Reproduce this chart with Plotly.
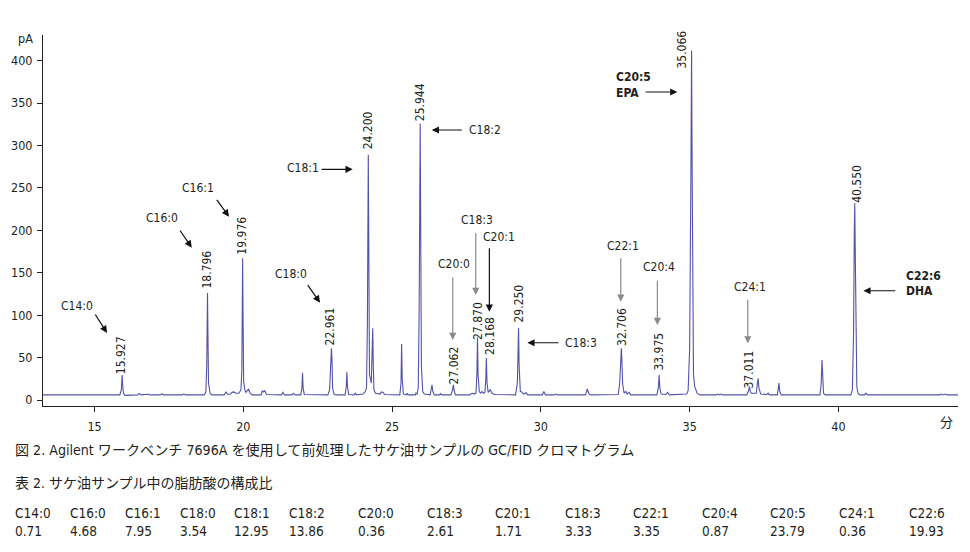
import plotly.graph_objects as go

# ---------------- data ----------------
# chromatogram trace: retention time (min) / signal (pA)
time_min = [
    13.27, 14.5, 15.6,
    15.85, 15.90, 15.915, 15.927, 15.94, 15.97, 16.02,
    16.45, 16.5, 16.56, 16.8, 16.86, 17.2, 17.26, 17.32, 17.95, 18.0, 18.05,
    18.68, 18.74, 18.77, 18.796, 18.81, 18.83, 18.88, 18.95,
    19.36, 19.42, 19.48, 19.56, 19.62, 19.68, 19.75,
    19.85, 19.92, 19.95, 19.965, 19.976, 19.99, 20.01, 20.05, 20.09, 20.17, 20.23, 20.3,
    20.6, 20.64, 20.68, 20.72, 20.78, 21.28, 21.33, 21.38, 21.64, 21.69, 21.74,
    21.93, 21.97, 21.99, 22.01, 22.05,
    22.84, 22.9, 22.94, 22.961, 22.98, 23.0, 23.05, 23.12,
    23.42, 23.46, 23.48, 23.50, 23.54, 23.72, 23.76, 23.8,
    24.02, 24.08, 24.14, 24.17, 24.2, 24.215, 24.24, 24.3, 24.33, 24.35, 24.365, 24.39, 24.44,
    24.6, 24.64, 24.7, 24.75,
    25.26, 25.3, 25.32, 25.34, 25.38, 25.48, 25.5, 25.54,
    25.78, 25.8, 25.84, 25.88, 25.91, 25.944, 25.96, 25.985, 26.03, 26.08,
    26.28, 26.32, 26.34, 26.37, 26.42, 26.6, 26.63, 26.67,
    26.98, 27.03, 27.062, 27.09, 27.13,
    27.62, 27.66, 27.72, 27.76, 27.82, 27.85, 27.870, 27.89, 27.93, 27.97, 28.02, 28.07,
    28.12, 28.15, 28.168, 28.19, 28.23, 28.3, 28.36, 28.45,
    29.15, 29.21, 29.25, 29.27, 29.31, 29.36, 29.42, 29.5, 29.56,
    30.05, 30.1, 30.15, 30.45, 30.5, 30.55, 31.5, 31.56, 31.62, 31.68,
    32.6, 32.65, 32.69, 32.706, 32.72, 32.75, 32.8, 32.86, 32.9, 32.96, 33.02,
    33.9, 33.95, 33.975, 34.0, 34.04, 34.2, 34.26, 34.32,
    34.9, 34.95, 35.0, 35.04, 35.066, 35.08, 35.1, 35.13, 35.17, 35.25, 35.35,
    35.9, 35.95, 36.0, 36.05, 36.1,
    36.92, 36.97, 37.011, 37.04, 37.08, 37.24, 37.28, 37.30, 37.33, 37.39,
    37.6, 37.64, 37.68, 37.95, 37.98, 38.0, 38.03, 38.08,
    39.38, 39.42, 39.45, 39.47, 39.5, 39.56,
    40.42, 40.47, 40.51, 40.535, 40.55, 40.565, 40.59, 40.62, 40.66, 40.72,
    40.88, 40.92, 40.97, 43.4, 43.45, 43.5, 43.6, 43.65, 44.02,
]
signal_pA = [
    6.0, 6.0, 6.0,
    6.0, 12, 22, 29.5, 20, 8, 5.5,
    6, 7.8, 6, 6.8, 6, 6, 7.2, 6, 6, 7.3, 6,
    6, 9, 40, 126, 80, 20, 8, 6,
    6, 9.5, 6.5, 7, 9, 9.5, 8,
    8, 12, 35, 110, 167, 100, 22, 12, 9, 13, 8, 6,
    6, 11, 9.5, 11, 6.5, 6, 9, 6, 6, 8, 6,
    6, 14, 32, 14, 6.5,
    6, 12, 45, 61, 48, 14, 7, 6,
    6, 16, 33, 16, 6.5, 6, 8, 6,
    7, 9, 14, 90, 289, 150, 30, 20, 50, 84.5, 45, 12, 8,
    7, 9.5, 9, 6.5,
    6, 20, 66, 25, 7, 6, 8, 6,
    6, 8, 7, 15, 110, 326, 200, 40, 10, 7,
    6, 12, 18, 10, 6, 6, 7.5, 6,
    6, 12, 18, 10, 6,
    6, 7.5, 8, 7, 8, 30, 74, 30, 10, 8, 10, 8,
    9, 25, 49.5, 20, 9, 12, 8, 6.5,
    6, 20, 85, 40, 10, 9.5, 7, 8.5, 6,
    6, 10, 6, 6, 7, 6, 6, 13, 7, 6,
    6.5, 20, 50, 61, 50, 18, 8, 10, 7, 9, 6,
    6, 15, 29.5, 14, 7, 6.5, 9, 6,
    7, 11, 60, 250, 412, 300, 100, 30, 16, 8, 6,
    6, 7, 6, 7, 6,
    6, 10, 15.7, 10, 8, 8, 20, 25.5, 14, 7,
    6.5, 8, 6, 6, 14, 20, 10, 6,
    6, 18, 47, 25, 8, 6,
    6, 12, 80, 200, 232, 180, 50, 15, 8, 6,
    6, 8, 6, 6, 7, 6, 7, 6, 6,
]
assert len(time_min) == len(signal_pA)

# labelled peaks (retention time) and label centre heights
peak_rt = [15.927, 18.796, 19.976, 22.961, 24.200, 25.944, 27.062, 27.870,
           28.168, 29.250, 32.706, 33.975, 35.066, 37.011, 40.550]
peak_label_y = [53.0, 153.2, 193.3, 87.2, 318.3, 351.3, 41.3, 93.7,
                75.4, 113.2, 86.6, 57.2, 412.6, 36.5, 255.2]
peak_label_xshift = [-1, 0, -1, -1, 0, 0, 1, 0, 3.5, 0, 0, 0, -10, 0, 1.5]

# compound labels: text, label position (x, y), arrow tail, arrow head, colour
compound_text = ["C14:0", "C16:0", "C16:1", "C18:0", "C18:1", "C18:2", "C20:0",
                 "C18:3", "C20:1", "C18:3", "C22:1", "C20:4", "C24:1"]
compound_x = [14.426, 17.267, 18.461, 21.603, 21.990, 28.124, 27.066,
              27.855, 28.595, 31.351, 32.763, 33.973, 37.015]
compound_y = [110.8, 214.5, 249.9, 148.5, 273.5, 318.3, 160.3,
              212.2, 192.5, 67.5, 181.9, 157.1, 133.6]
arrow_tail_x = [14.992, 17.839, 19.072, 22.131, 22.578, 27.395, 27.039,
                27.812, 28.269, 30.645, 32.686, 33.916, 36.955]
arrow_tail_y = [102.6, 201.6, 237.8, 137.3, 272.0, 318.3, 146.2,
                198.4, 180.7, 67.5, 168.9, 142.3, 119.9]
arrow_head_x = [15.418, 18.266, 19.519, 22.578, 23.677, 26.333, 27.039,
                27.812, 28.269, 29.546, 32.686, 33.916, 36.955]
arrow_head_y = [79.0, 179.5, 216.1, 114.7, 272.0, 318.3, 70.7,
                123.8, 104.1, 67.5, 115.9, 88.4, 66.8]
arrow_gray = [False, False, False, False, False, False, True,
              True, False, False, True, True, True]

# bold highlighted compounds (two-line labels)
bold_line1 = ["C20:5", "C22:6"]
bold_line2 = ["EPA", "DHA"]
bold_x = [32.461, 42.209]
bold_y1 = [380.8, 146.5]
bold_y2 = [362.3, 128.5]
bold_tail_x = [33.469, 41.963]
bold_head_x = [34.588, 40.840]
bold_arrow_y = [363.1, 128.8]

x_ticks = [15, 20, 25, 30, 35, 40]
y_ticks = [0, 50, 100, 150, 200, 250, 300, 350, 400]

# table
table_names = ["C14:0", "C16:0", "C16:1", "C18:0", "C18:1", "C18:2", "C20:0", "C18:3",
               "C20:1", "C18:3", "C22:1", "C20:4", "C20:5", "C24:1", "C22:6"]
table_values = [0.71, 4.68, 7.95, 3.54, 12.95, 13.86, 0.36, 2.61,
                1.71, 3.33, 3.35, 0.87, 23.79, 0.36, 19.93]

caption_fig = "図 2. Agilent ワークベンチ 7696A を使用して前処理したサケ油サンプルの GC/FID クロマトグラム"
caption_tab = "表 2. サケ油サンプル中の脂肪酸の構成比"

# ---------------- layout constants ----------------
W, H = 970, 552
ML, MR, MT, MB = 43, 12, 35, 146
PW, PH = W - ML - MR, H - MT - MB
FONT = "Liberation Sans Narrow, DejaVu Sans Condensed, Noto Sans CJK JP, sans-serif"
TXT = "#231f20"
LINE = "#5252aa"
LBL = 12      # label font size
TICK = 12.5

def px(xp):
    return (xp - ML) / PW

def py(yp):
    return (H - MB - yp) / PH

table_col_px = [12.7, 67.7, 122.7, 177.7, 232.3, 287.3, 356, 425,
                493.3, 562.7, 631, 700, 768.3, 837.3, 906.7]

fig = go.Figure()
fig.add_trace(go.Scatter(x=time_min, y=signal_pA, mode="lines",
                         line=dict(color=LINE, width=1.1), hoverinfo="skip"))

ann = []
# retention-time labels
for rt, yl, xs in zip(peak_rt, peak_label_y, peak_label_xshift):
    ann.append(dict(x=rt, y=yl, xref="x", yref="y", text=f"{rt:.3f}", showarrow=False,
                    textangle=-90, xanchor="center", yanchor="middle", xshift=xs,
                    font=dict(size=LBL, color=TXT)))
# compound labels and arrows
for t, xl, yl, tx, ty, hx, hy, g in zip(compound_text, compound_x, compound_y,
                                         arrow_tail_x, arrow_tail_y, arrow_head_x,
                                         arrow_head_y, arrow_gray):
    ann.append(dict(x=xl, y=yl, xref="x", yref="y", text=t, showarrow=False,
                    xanchor="center", yanchor="middle", font=dict(size=LBL, color=TXT)))
    col = "#8a8a8a" if g else "#111111"
    ann.append(dict(x=hx, y=hy, ax=tx, ay=ty, xref="x", yref="y", axref="x", ayref="y",
                    text="", showarrow=True, arrowhead=2, arrowsize=1.2, arrowwidth=1.2,
                    arrowcolor=col))
for l1, l2, xl, y1, y2, tx, hx, ay in zip(bold_line1, bold_line2, bold_x, bold_y1, bold_y2,
                                          bold_tail_x, bold_head_x, bold_arrow_y):
    for txt, yy in ((l1, y1), (l2, y2)):
        ann.append(dict(x=xl, y=yy, xref="x", yref="y", text=f"<b>{txt}</b>", showarrow=False,
                        xanchor="left", yanchor="middle", font=dict(size=LBL, color=TXT)))
    ann.append(dict(x=hx, y=ay, ax=tx, ay=ay, xref="x", yref="y", axref="x", ayref="y",
                    text="", showarrow=True, arrowhead=2, arrowsize=1.2, arrowwidth=1.2,
                    arrowcolor="#111111"))
# axis unit labels
ann.append(dict(x=px(25.8), y=py(38.3), xref="paper", yref="paper", text="pA", showarrow=False,
                xanchor="center", yanchor="middle", font=dict(size=TICK, color=TXT)))
ann.append(dict(x=px(946), y=py(422), xref="paper", yref="paper", text="分", showarrow=False,
                xanchor="center", yanchor="middle", font=dict(size=13, color=TXT)))
# captions
ann.append(dict(x=px(12.7), y=py(450), xref="paper", yref="paper", text=caption_fig,
                showarrow=False, xanchor="left", yanchor="middle", font=dict(size=14.1, color=TXT)))
ann.append(dict(x=px(12.7), y=py(483.3), xref="paper", yref="paper", text=caption_tab,
                showarrow=False, xanchor="left", yanchor="middle", font=dict(size=14, color=TXT)))
# table
for name, val, cx in zip(table_names, table_values, table_col_px):
    ann.append(dict(x=px(cx), y=py(512.5), xref="paper", yref="paper", text=name,
                    showarrow=False, xanchor="left", yanchor="middle", font=dict(size=13.5, color=TXT)))
    ann.append(dict(x=px(cx), y=py(530.5), xref="paper", yref="paper", text=f"{val:.2f}",
                    showarrow=False, xanchor="left", yanchor="middle", font=dict(size=13.5, color=TXT)))

fig.update_layout(
    width=W, height=H, margin=dict(l=ML, r=MR, t=MT, b=MB, pad=0),
    plot_bgcolor="white", paper_bgcolor="white", showlegend=False,
    font=dict(family=FONT, color=TXT, size=13),
    annotations=ann,
    xaxis=dict(range=[13.267, 44.02], tickvals=x_ticks, ticks="outside", ticklen=5,
               tickcolor=TXT, showline=True, linecolor=TXT, linewidth=1, showgrid=False,
               zeroline=False, tickfont=dict(size=TICK, color=TXT), ticklabelstandoff=4),
    yaxis=dict(range=[-7.07, 430.3], tickvals=y_ticks, ticks="outside", ticklen=5,
               tickcolor=TXT, showline=True, linecolor=TXT, linewidth=1, showgrid=False,
               zeroline=False, tickfont=dict(size=TICK, color=TXT), ticklabelstandoff=2),
)

fig.write_html("out.html", config={"displayModeBar": False},
               post_script="document.body.style.margin='0';document.body.style.padding='0';")
